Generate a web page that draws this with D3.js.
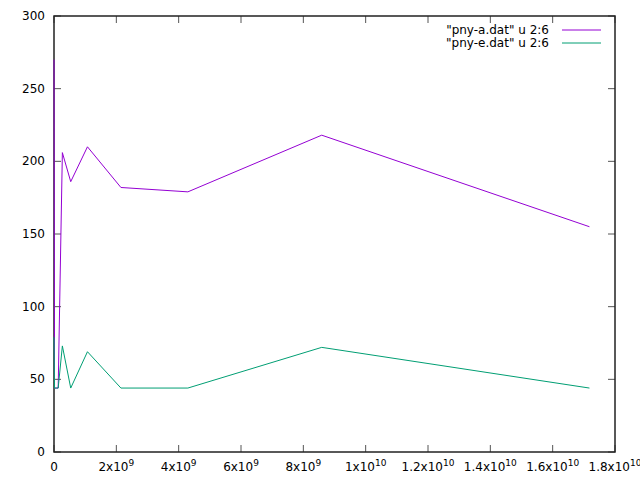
<!DOCTYPE html>
<html>
<head>
<meta charset="utf-8">
<script src="https://cdn.jsdelivr.net/npm/d3@7"></script>
<style>
  body { margin: 0; background: #fff; }
  text { font-family: "DejaVu Sans", sans-serif; font-size: 12px; fill: #000; }
</style>
</head>
<body>
<script>
// x values are powers of two
const xs = [2**20, 2**24, 2**26, 2**27, 2**28, 2**29, 2**30, 2**31, 2**32, 2**33, 2**34];
const seriesA = [270, 44, 44, 44, 206, 186, 210, 182, 179, 218, 155];
const seriesE = [79, 44, 44, 44, 73, 44, 69, 44, 44, 72, 44];
const seriesNames = ['"pny-a.dat" u 2:6', '"pny-e.dat" u 2:6'];
const colors = ["#9400d3", "#009e73"];
const yTicks = [0, 50, 100, 150, 200, 250, 300];
const xTicks = [0, 2e9, 4e9, 6e9, 8e9, 1e10, 1.2e10, 1.4e10, 1.6e10, 1.8e10];

const width = 640, height = 480;
const plotL = 54, plotR = 615, plotT = 16, plotB = 452;

const svg = d3.select("body").append("svg")
  .attr("width", width).attr("height", height);

const x = d3.scaleLinear().domain([0, 1.8e10]).range([plotL, plotR]);
const y = d3.scaleLinear().domain([0, 300]).range([plotB, plotT]);

// ticks (inward, mirrored)
const tickLen = 7;
yTicks.forEach(v => {
  svg.append("line").attr("x1", plotL).attr("x2", plotL + tickLen)
    .attr("y1", y(v)).attr("y2", y(v)).attr("stroke", "#555").attr("stroke-width", 1);
  svg.append("line").attr("x1", plotR).attr("x2", plotR - tickLen)
    .attr("y1", y(v)).attr("y2", y(v)).attr("stroke", "#555").attr("stroke-width", 1);
  svg.append("text").attr("x", plotL - 9).attr("y", y(v) + 4)
    .attr("text-anchor", "end").text(v);
});

xTicks.forEach(v => {
  svg.append("line").attr("x1", x(v)).attr("x2", x(v))
    .attr("y1", plotB).attr("y2", plotB - tickLen).attr("stroke", "#555").attr("stroke-width", 1);
  svg.append("line").attr("x1", x(v)).attr("x2", x(v))
    .attr("y1", plotT).attr("y2", plotT + tickLen).attr("stroke", "#555").attr("stroke-width", 1);
  const t = svg.append("text").attr("x", x(v)).attr("y", 471).attr("text-anchor", "middle");
  if (v === 0) {
    t.text("0");
  } else {
    const exp = Math.floor(Math.log10(v) + 1e-9);
    const mant = +(v / Math.pow(10, exp)).toFixed(1);
    t.append("tspan").text(mant + "x10");
    t.append("tspan").attr("dy", -5).attr("font-size", "9px").text(exp);
  }
});

// border
svg.append("rect").attr("x", plotL).attr("y", plotT)
  .attr("width", plotR - plotL).attr("height", plotB - plotT)
  .attr("fill", "none").attr("stroke", "#222").attr("stroke-width", 1.5);

// lines
const line = d3.line().x((d, i) => x(xs[i])).y(d => y(d));
[seriesA, seriesE].forEach((s, k) => {
  svg.append("path").datum(s).attr("d", line)
    .attr("fill", "none").attr("stroke", colors[k]).attr("stroke-width", 1);
});

// legend
seriesNames.forEach((name, k) => {
  const ly = 30 + k * 13;
  svg.append("text").attr("x", 549).attr("y", ly + 4)
    .attr("text-anchor", "end").text(name);
  svg.append("line").attr("x1", 562).attr("x2", 601)
    .attr("y1", ly).attr("y2", ly).attr("stroke", colors[k]).attr("stroke-width", 1);
});
</script>
</body>
</html>
